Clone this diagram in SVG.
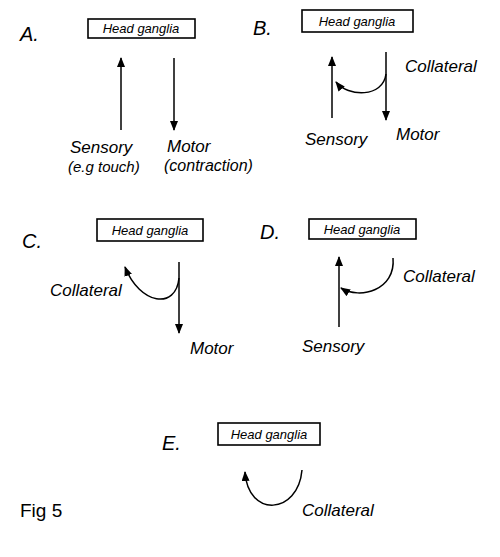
<svg xmlns="http://www.w3.org/2000/svg" width="500" height="557" viewBox="0 0 500 557">
<style>
text{font-family:"Liberation Sans",Arial,sans-serif;font-style:italic;fill:#000}
.lbl{font-size:17px}
.big{font-size:20px}
.box text{font-size:13px}
.box rect{fill:#fff;stroke:#000;stroke-width:1.6}
.c{fill:none;stroke:#000;stroke-width:1.5;marker-end:url(#ah)}
</style>
<defs>
<marker id="ah" markerUnits="userSpaceOnUse" markerWidth="10" markerHeight="8" refX="9" refY="4" orient="auto">
<path d="M0,0 L10,4 L0,8 Z" fill="#000"/>
</marker>
</defs>
<rect width="500" height="557" fill="#fff"/>
<g id="panel-labels">
<text class="big" x="20" y="41">A.</text>
<text class="big" x="253" y="35">B.</text>
<text class="big" x="22" y="248">C.</text>
<text class="big" x="260" y="239">D.</text>
<text class="big" x="162" y="450">E.</text>
<text x="20" y="517" style="font-style:normal;font-size:19px">Fig 5</text>
</g>
<g id="A-head" class="box"><rect x="88" y="19" width="107" height="19"/><text x="141" y="33" text-anchor="middle">Head ganglia</text></g>
<g id="A-sensory"><text class="lbl" x="70" y="153">Sensory</text><text x="68" y="172" style="font-size:15px">(e.g touch)</text></g>
<g id="A-motor"><text class="lbl" x="167" y="152">Motor</text><text x="164" y="171" style="font-size:16px">(contraction)</text></g>
<g id="B-head" class="box"><rect x="302" y="10" width="111" height="22"/><text x="357" y="26" text-anchor="middle">Head ganglia</text></g>
<g id="B-collateral"><text class="lbl" x="405" y="72">Collateral</text></g>
<g id="B-sensory"><text class="lbl" x="305" y="145">Sensory</text></g>
<g id="B-motor"><text class="lbl" x="396" y="140">Motor</text></g>
<g id="C-head" class="box"><rect x="97" y="219" width="106" height="22"/><text x="150" y="235" text-anchor="middle">Head ganglia</text></g>
<g id="C-collateral"><text class="lbl" x="50" y="296">Collateral</text></g>
<g id="C-motor"><text class="lbl" x="190" y="354">Motor</text></g>
<g id="D-head" class="box"><rect x="309" y="219" width="107" height="20"/><text x="362" y="234" text-anchor="middle">Head ganglia</text></g>
<g id="D-collateral"><text class="lbl" x="403" y="282">Collateral</text></g>
<g id="D-sensory"><text class="lbl" x="302" y="352">Sensory</text></g>
<g id="E-head" class="box"><rect x="218" y="423" width="102" height="22"/><text x="269" y="439" text-anchor="middle">Head ganglia</text></g>
<g id="E-collateral"><text class="lbl" x="302" y="516">Collateral</text></g>
<g id="connectors">
<path class="c" d="M121,130 L121,58"/>
<path class="c" d="M174,58 L174,130"/>
<path class="c" d="M332,118 L332,57"/>
<path class="c" d="M386,52 L386,120"/>
<path class="c" d="M386,74 C383,98 348,97 336,82"/>
<path class="c" d="M179,262 L179,333"/>
<path class="c" d="M179,278 C176,310 140,305 125,267"/>
<path class="c" d="M339,327 L339,257"/>
<path class="c" d="M393,258 C396,290 360,300 341,288"/>
<path class="c" d="M302,470 C298,515 248,518 245,472"/>
</g>
</svg>
